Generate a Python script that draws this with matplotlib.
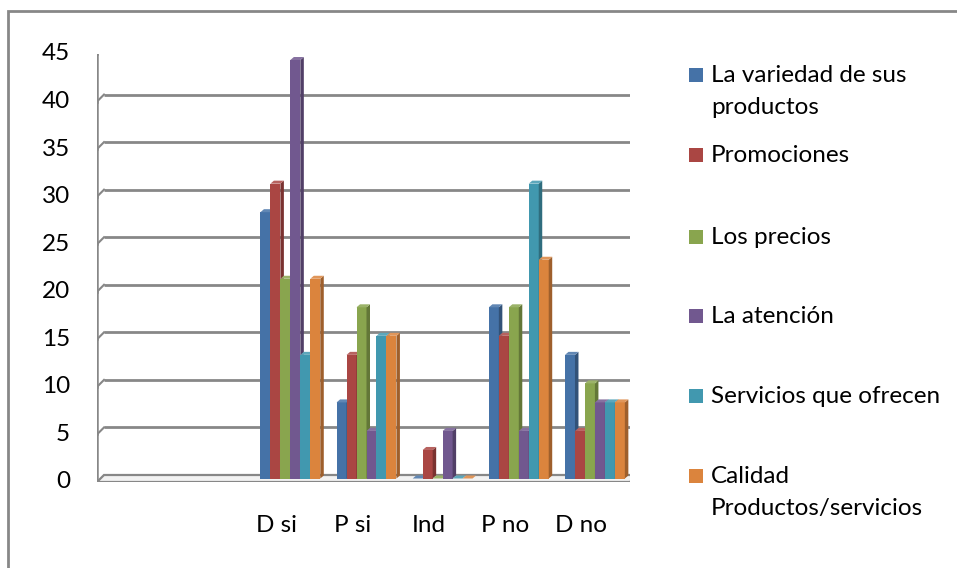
import numpy as np
import matplotlib
matplotlib.use("Agg")
import matplotlib.pyplot as plt
from matplotlib.patches import Polygon, Rectangle
from matplotlib.lines import Line2D
from matplotlib.transforms import IdentityTransform

plt.rcParams['font.family'] = ['Lato', 'DejaVu Sans']

# ---- data -------------------------------------------------------------
categories = ["", "", "D si", "P si", "Ind", "P no", "D no"]
series_names = [
    "La variedad de sus\nproductos",
    "Promociones",
    "Los precios",
    "La atención",
    "Servicios que ofrecen",
    "Calidad\nProductos/servicios",
]
nan = np.nan
variedad = [nan, nan, 28, 8, 0, 18, 13]
promociones = [nan, nan, 31, 13, 3, 15, 5]
precios = [nan, nan, 21, 18, 0, 18, 10]
atencion = [nan, nan, 44, 5, 5, 5, 8]
servicios = [nan, nan, 13, 15, 0, 31, 8]
calidad = [nan, nan, 21, 15, 0, 23, 8]
series_values = [variedad, promociones, precios, atencion, servicios, calidad]
y_ticks = [0, 5, 10, 15, 20, 25, 30, 35, 40, 45]

colors = ["#4572A7", "#AA4643", "#89A54E", "#71588F", "#4198AF", "#DB843D"]

FS = 17.5

# ---- figure ------------------------------------------------------------
W, H = 957, 568
DPI = 100
fig = plt.figure(figsize=(W / DPI, H / DPI), dpi=DPI)
fig.patch.set_facecolor("white")


def fx(px):
    return px / W


def fy(py):
    return 1 - py / H


# front plane of the 3-D box
left, right, y_bot, y_top = 97, 630, 482, 54
ax = fig.add_axes([fx(left), fy(y_bot), fx(right - left), (y_bot - y_top) / H])
ax.set_xlim(-0.5, len(categories) - 0.5)
ax.set_ylim(0, 45)
ax.axis("off")

grid_col = "#878787"
ident = IdentityTransform()
wall_dx, wall_dy = 7, 7      # depth of back wall (pixels)
mid_dx, mid_dy = 3, 3.5       # bars sit halfway into the box
bar_dx, bar_dy = 3.5, 3       # depth of each column


def disp(x, y):
    return ax.transData.transform((x, y))


# chart border (top and left edges fall inside the canvas)
fig.add_artist(Line2D([fx(8), fx(8), fx(W + 10)], [fy(H + 10), fy(11), fy(11)],
                      transform=fig.transFigure, color="#878787",
                      linewidth=2.0, solid_joinstyle="miter", zorder=0))

x_lo, x_hi = -0.5, len(categories) - 0.5

# back wall gridlines with diagonal joins to the front axis
for v in y_ticks:
    (xa, ya) = disp(x_lo, v)
    (xb, yb) = disp(x_hi, v)
    if v == 0:
        continue
    ax.add_line(Line2D([xa + wall_dx, xb + wall_dx], [ya + wall_dy, yb + wall_dy],
                       transform=ident, color=grid_col, linewidth=2.0,
                       solid_capstyle="butt", zorder=1))
    ax.add_line(Line2D([xa, xa + wall_dx], [ya, ya + wall_dy], transform=ident,
                       color=grid_col, linewidth=1.5, zorder=1))

# floor
(f0x, f0y) = disp(x_lo, 0)
(f1x, f1y) = disp(x_hi, 0)
floor = Polygon([[f0x, f0y], [f1x, f1y], [f1x + wall_dx, f1y + wall_dy],
                 [f0x + wall_dx, f0y + wall_dy]], closed=True, transform=ident,
                facecolor="#F2F2F2", edgecolor=grid_col, linewidth=1.6, zorder=1)
ax.add_patch(floor)

# front value axis and ticks
(ax0x, ax0y) = disp(x_lo, 0)
(ax1x, ax1y) = disp(x_lo, 45)
ax.add_line(Line2D([ax0x, ax1x], [ax0y - 6, ax1y], transform=ident,
                   color=grid_col, linewidth=1.8, zorder=2))
for v in y_ticks:
    (tx, ty) = disp(x_lo, v)
    ax.add_line(Line2D([tx - 9, tx], [ty, ty], transform=ident,
                       color=grid_col, linewidth=1.8, zorder=2))
    ax.text(tx - 27, ty, str(v), transform=ident, ha="right", va="center",
            fontsize=FS, color="#000000")

# category ticks and labels
for i in range(len(categories) + 1):
    (tx, ty) = disp(x_lo + i, 0)
    ax.add_line(Line2D([tx, tx], [ty, ty - 7], transform=ident,
                       color=grid_col, linewidth=1.8, zorder=2))
for i, cat in enumerate(categories):
    (cx, cy) = disp(i, 0)
    ax.text(cx - 11, cy - 43, cat, transform=ident, ha="center", va="center",
            fontsize=FS, color="#000000")


def shade(c, f):
    rgb = np.array(matplotlib.colors.to_rgb(c))
    if f < 1:
        return tuple(rgb * f)
    return tuple(rgb + (1 - rgb) * (f - 1))


# 3-D columns
n = len(series_values)
bw = 0.131
for i in range(len(categories)):
    for s in range(n):
        v = series_values[s][i]
        if np.isnan(v):
            continue
        x0 = i - n * bw / 2 + s * bw
        x1 = x0 + bw
        (ax_, ay_) = disp(x0, 0)
        (bx_, by_) = disp(x1, v)
        ax_ += mid_dx; bx_ += mid_dx
        ay_ += mid_dy; by_ += mid_dy
        z = 3 + i * 0.1 + s * 0.01
        c = colors[s]
        front = Polygon([[ax_, ay_], [bx_, ay_], [bx_, by_], [ax_, by_]],
                        transform=ident, facecolor=c, edgecolor="none", zorder=z)
        side = Polygon([[bx_, ay_], [bx_ + bar_dx, ay_ + bar_dy],
                        [bx_ + bar_dx, by_ + bar_dy], [bx_, by_]],
                       transform=ident, facecolor=shade(c, 0.72), edgecolor="none",
                       zorder=z)
        top = Polygon([[ax_, by_], [bx_, by_], [bx_ + bar_dx, by_ + bar_dy],
                       [ax_ + bar_dx, by_ + bar_dy]],
                      transform=ident, facecolor=shade(c, 1.15), edgecolor="none",
                      zorder=z)
        for p in (front, side, top):
            ax.add_patch(p)

# legend: square aligned with the first line of each entry
leg_rows = [75, 155, 237, 316, 396, 476]
line_gap = 32
for name, c, ry in zip(series_names, colors, leg_rows):
    fig.add_artist(Rectangle((fx(689), fy(ry + 7)), 14 / W, 14 / H,
                             transform=fig.transFigure, facecolor=c,
                             edgecolor="none"))
    for k, line in enumerate(name.split("\n")):
        fig.text(fx(711), fy(ry + 7 + k * line_gap), line, ha="left",
                 va="baseline", fontsize=FS, color="#000000")

fig.savefig("out.png", dpi=DPI)
